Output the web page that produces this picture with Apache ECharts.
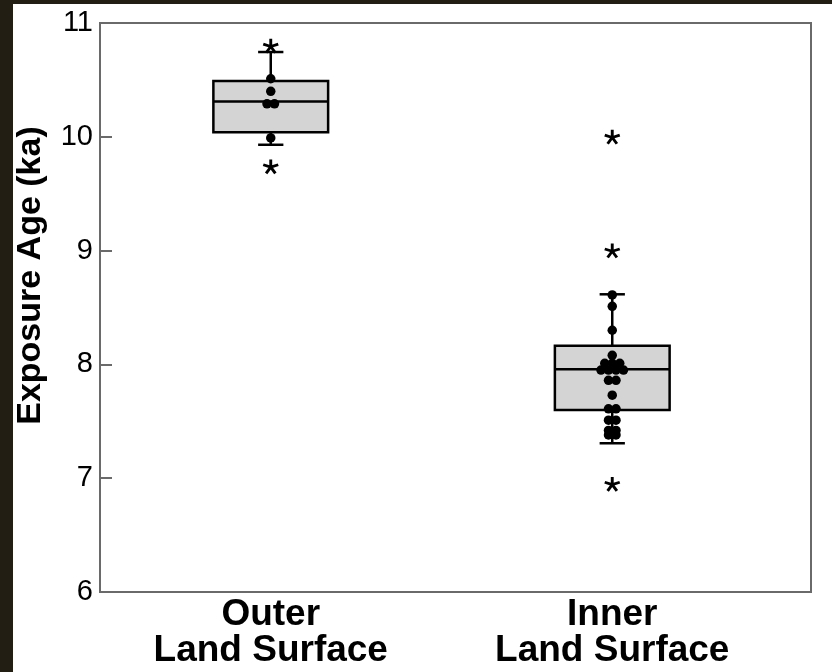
<!DOCTYPE html>
<html>
<head>
<meta charset="utf-8">
<script src="https://cdn.jsdelivr.net/npm/echarts@6/dist/echarts.min.js"></script>
<style>
html,body{margin:0;padding:0;width:832px;height:672px;background:#231e14;overflow:hidden;}
#chart{position:absolute;left:13px;top:4px;width:819px;height:668px;background:#fff;}
</style>
</head>
<body>
<div id="chart"></div>
<script>
// ---- data ----
const categories = ['Outer\nLand Surface', 'Inner\nLand Surface'];
// [lower whisker, Q1, median, Q3, upper whisker]
const outerBox = [9.93, 10.04, 10.31, 10.49, 10.745];
const innerBox = [7.307, 7.60, 7.957, 8.164, 8.616];
const outerPoints = [10.51, 10.40, 10.29, 10.29, 9.99];
const innerPoints = [8.61, 8.51, 8.30, 8.08, 8.01, 8.01, 8.01, 7.95, 7.95, 7.95, 7.95,
                     7.86, 7.86, 7.73, 7.61, 7.61, 7.51, 7.51, 7.42, 7.42, 7.38, 7.38];
const outerOutliers = [10.80, 9.74];
const innerOutliers = [10.0, 9.0, 6.95];
const yMin = 6, yMax = 11, yInterval = 1;
const yName = 'Exposure Age (ka)';

// ---- build ----
const boxData = [outerBox, innerBox].map((s, i) => [i].concat(s));
const DODGE = 7.5;
function dodge(values, cat) {
  const groups = {};
  values.forEach(v => { const k = v.toFixed(2); (groups[k] = groups[k] || []).push(v); });
  const out = [];
  Object.keys(groups).forEach(k => {
    const g = groups[k];
    g.forEach((v, j) => {
      out.push({ value: [cat, v], symbolOffset: [(j - (g.length - 1) / 2) * DODGE, 0] });
    });
  });
  return out;
}
const pointData = dodge(outerPoints, 0).concat(dodge(innerPoints, 1));
const outlierData = outerOutliers.map(v => [0, v]).concat(innerOutliers.map(v => [1, v]));

// 5-armed asterisk
const star = 'path://M0,-10L0,0M9.51,-3.09L0,0M5.88,8.09L0,0M-5.88,8.09L0,0M-9.51,-3.09L0,0';

const axisColor = '#6a6a6a';
const chart = echarts.init(document.getElementById('chart'), null, { renderer: 'canvas' });
chart.setOption({
  backgroundColor: '#ffffff',
  animation: false,
  grid: [
    { left: 87, right: 49, top: 19, bottom: 80, containLabel: false, outerBoundsMode: 'none' },
    { left: 87, right: 21, top: 19, bottom: 80, containLabel: false, outerBoundsMode: 'none',
      show: true, borderColor: axisColor, borderWidth: 2, backgroundColor: 'transparent', z: 0 }
  ],
  xAxis: [
    {
      type: 'category', gridIndex: 0, data: categories, boundaryGap: true,
      axisLine: { show: false }, axisTick: { show: false }, splitLine: { show: false },
      axisLabel: {
        color: '#000', fontFamily: 'Liberation Sans, Arial, sans-serif', fontWeight: 'bold',
        fontSize: 37, lineHeight: 36, margin: 5, interval: 0
      }
    },
    { type: 'value', gridIndex: 1, show: false, min: 0, max: 1 }
  ],
  yAxis: [
    {
      type: 'value', gridIndex: 0, min: yMin, max: yMax, interval: yInterval,
      name: yName, nameLocation: 'middle', nameRotate: 90, nameGap: 52,
      nameTextStyle: {
        color: '#000', fontFamily: 'Liberation Sans, Arial, sans-serif', fontWeight: 'bold',
        fontSize: 34, padding: [0, 0, 0, 64]
      },
      axisLine: { show: false },
      axisTick: { show: true, inside: true, length: 12, lineStyle: { color: axisColor, width: 2 } },
      splitLine: { show: false },
      axisLabel: { color: '#000', fontFamily: 'Liberation Sans, Arial, sans-serif', fontSize: 29, margin: 7 }
    },
    { type: 'value', gridIndex: 1, show: false, min: 0, max: 1 }
  ],
  series: [
    {
      type: 'custom', xAxisIndex: 0, yAxisIndex: 0, z: 2,
      data: boxData,
      encode: { x: 0, y: [1, 2, 3, 4, 5] },
      renderItem: function (params, api) {
        const c = api.value(0);
        const bw = api.size([1, 0])[0];
        const half = bw * 0.168, capHalf = bw * 0.037;
        const cx = api.coord([c, api.value(3)])[0];
        const yLo = api.coord([c, api.value(1)])[1];
        const yQ1 = api.coord([c, api.value(2)])[1];
        const yMed = api.coord([c, api.value(3)])[1];
        const yQ3 = api.coord([c, api.value(4)])[1];
        const yHi = api.coord([c, api.value(5)])[1];
        const ls = { stroke: '#000', lineWidth: 2.5 };
        return {
          type: 'group',
          children: [
            { type: 'line', shape: { x1: cx, y1: yQ3, x2: cx, y2: yHi }, style: ls },
            { type: 'line', shape: { x1: cx, y1: yQ1, x2: cx, y2: yLo }, style: ls },
            { type: 'line', shape: { x1: cx - capHalf, y1: yHi, x2: cx + capHalf, y2: yHi }, style: ls },
            { type: 'line', shape: { x1: cx - capHalf, y1: yLo, x2: cx + capHalf, y2: yLo }, style: ls },
            { type: 'rect', shape: { x: cx - half, y: yQ3, width: half * 2, height: yQ1 - yQ3 },
              style: { fill: '#d4d4d4', stroke: '#000', lineWidth: 2.5 } },
            { type: 'line', shape: { x1: cx - half, y1: yMed, x2: cx + half, y2: yMed }, style: ls }
          ]
        };
      }
    },
    {
      type: 'scatter', xAxisIndex: 0, yAxisIndex: 0, z: 3,
      symbol: 'circle', symbolSize: 9.5,
      itemStyle: { color: '#000', opacity: 1 },
      data: pointData
    },
    {
      type: 'scatter', xAxisIndex: 0, yAxisIndex: 0, z: 4,
      symbol: star, symbolSize: [15, 14],
      itemStyle: { color: '#000', borderColor: '#000', borderWidth: 2.8, opacity: 1 },
      data: outlierData
    }
  ]
});
</script>
</body>
</html>
